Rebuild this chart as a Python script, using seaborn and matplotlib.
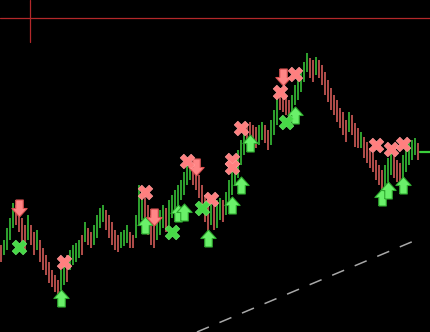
import numpy as np
import pandas as pd
import matplotlib
matplotlib.use("Agg")
import matplotlib.pyplot as plt
import seaborn as sns

# ---- bar data (high / low / direction), price units ----
highs = [87, 92, 104, 114, 129, 127, 122, 114, 107, 117, 107, 100, 102, 92, 84, 77, 70, 62, 57, 52,
         62, 70, 77, 82, 87, 89, 92, 97, 110, 104, 100, 107, 117, 124, 127, 122, 117, 110, 102, 97,
         100, 102, 107, 100, 97, 117, 147, 142, 137, 127, 117, 112, 117, 122, 127, 124, 132, 137, 142, 147,
         152, 160, 169, 172, 167, 162, 157, 147, 137, 127, 132, 127, 132, 134, 132, 140, 152, 162, 172, 182,
         192, 202, 207, 210, 207, 205, 207, 210, 207, 202, 212, 222, 234, 244, 240, 235, 232, 237, 247, 254,
         260, 270, 279, 274, 272, 275, 272, 267, 260, 252, 244, 237, 232, 224, 220, 212, 220, 217, 209, 204,
         200, 195, 190, 184, 179, 172, 167, 162, 167, 174, 180, 177, 172, 169, 177, 184, 189, 192, 194, 189]
lows = [70, 77, 82, 92, 104, 107, 100, 87, 82, 92, 87, 77, 82, 70, 62, 57, 49, 45, 40, 36,
        42, 47, 50, 62, 67, 70, 74, 77, 90, 87, 84, 87, 94, 104, 110, 102, 94, 87, 82, 80,
        84, 86, 89, 84, 84, 94, 107, 112, 107, 97, 87, 84, 92, 97, 104, 100, 107, 114, 117, 124,
        132, 137, 147, 152, 147, 142, 134, 122, 110, 100, 107, 102, 104, 112, 110, 117, 127, 137, 147, 154,
        167, 177, 187, 190, 187, 184, 187, 192, 189, 182, 187, 197, 207, 222, 220, 217, 214, 220, 227, 232,
        240, 250, 260, 254, 250, 257, 254, 247, 237, 230, 222, 217, 210, 204, 197, 190, 200, 197, 185, 184,
        184, 174, 169, 164, 160, 152, 147, 142, 144, 150, 157, 154, 150, 145, 152, 160, 167, 172, 177, 172]
direction = list("RGGGGRRRRGRRGRRRRRRR"
                 "GGRGGGGRGRRGGGGRRRRR"
                 "GGGRRGGGRRRRGGGRGGGG"
                 "GGGGRRRRRRGRGGRGGGGG"
                 "GGRRRRGGRRGGGRRRRGGG"
                 "GGGRRGRRRRRRRRRRGRRR"
                 "GRRRRRRRGGGRRRGGGGGR")

# ---- signal markers: (bar index, price) ----
sell_x_bar = [21, 48, 62, 70, 77, 77, 80, 93, 98, 125, 130, 134]
sell_x_price = [70, 140, 171, 133, 172, 165, 204, 240, 258, 187, 183, 188]
buy_x_bar = [6, 57, 67, 95]
buy_x_price = [85, 100, 124, 210]
down_bar = [6, 51, 65, 94]
down_price = [124, 115, 165, 255]
up_bar = [20, 48, 59, 61, 69, 77, 80, 83, 98, 127, 129, 134]
up_price = [34, 107, 119, 120, 94, 127, 147, 189, 217, 135, 142, 147]

# trend line and cursor / current price
trend_bar = [65.3, 140.0]
trend_price = [0, 94]
cursor_bar = 9.67
cursor_price = 314
last_price = 180

GREEN = "#3ccf3c"
RED = "#e2625f"

sns.set_style("dark", {"axes.facecolor": "black", "figure.facecolor": "black"})

fig = plt.figure(figsize=(4.30, 3.32), dpi=100)
ax = fig.add_axes([0, 0, 1, 1])
ax.set_facecolor("black")

df = pd.DataFrame({"bar": np.arange(len(highs)), "high": highs, "low": lows, "dir": direction})
for d, col in (("G", GREEN), ("R", RED)):
    sub = df[df["dir"] == d]
    ax.vlines(sub["bar"], sub["low"], sub["high"], color=col, linewidth=1.1)

# trend line
sns.lineplot(x=trend_bar, y=trend_price, ax=ax, color="#a8a8a8", linewidth=1.1,
             dashes=False, legend=False)
ax.lines[-1].set_dashes([8.5, 7.5])

# cursor crosshair
ax.axhline(cursor_price, color="#b3282a", linewidth=0.9)
ax.plot([cursor_bar, cursor_bar], [cursor_price - 24, 332], color="#b3282a", linewidth=0.9)

# current price mark
ax.plot([139.7, 143], [last_price, last_price], color=GREEN, linewidth=1.6)

# arrow markers
up_verts = [(-0.22, -0.5), (0.22, -0.5), (0.22, 0.0), (0.45, 0.0), (0.0, 0.5),
            (-0.45, 0.0), (-0.22, 0.0), (-0.22, -0.5)]
down_verts = [(x, -y) for x, y in up_verts]

sns.scatterplot(x=up_bar, y=up_price, ax=ax, marker=up_verts, s=150,
                color="#6af06a", edgecolor="#2fa82f", linewidth=0.8, legend=False, zorder=5)
sns.scatterplot(x=down_bar, y=down_price, ax=ax, marker=down_verts, s=150,
                color="#ff8686", edgecolor="#d85050", linewidth=0.8, legend=False, zorder=5)
sns.scatterplot(x=sell_x_bar, y=sell_x_price, ax=ax, marker="X", s=110,
                color="#ff7f7f", edgecolor="#ff9a9a", linewidth=0.5, legend=False, zorder=5)
sns.scatterplot(x=buy_x_bar, y=buy_x_price, ax=ax, marker="X", s=110,
                color="#47d847", edgecolor="#66e866", linewidth=0.5, legend=False, zorder=5)

ax.set_xlim(-1 / 3, -1 / 3 + 430 / 3)
ax.set_ylim(0, 332)
ax.axis("off")

fig.savefig("out.png", dpi=100, facecolor="black")
